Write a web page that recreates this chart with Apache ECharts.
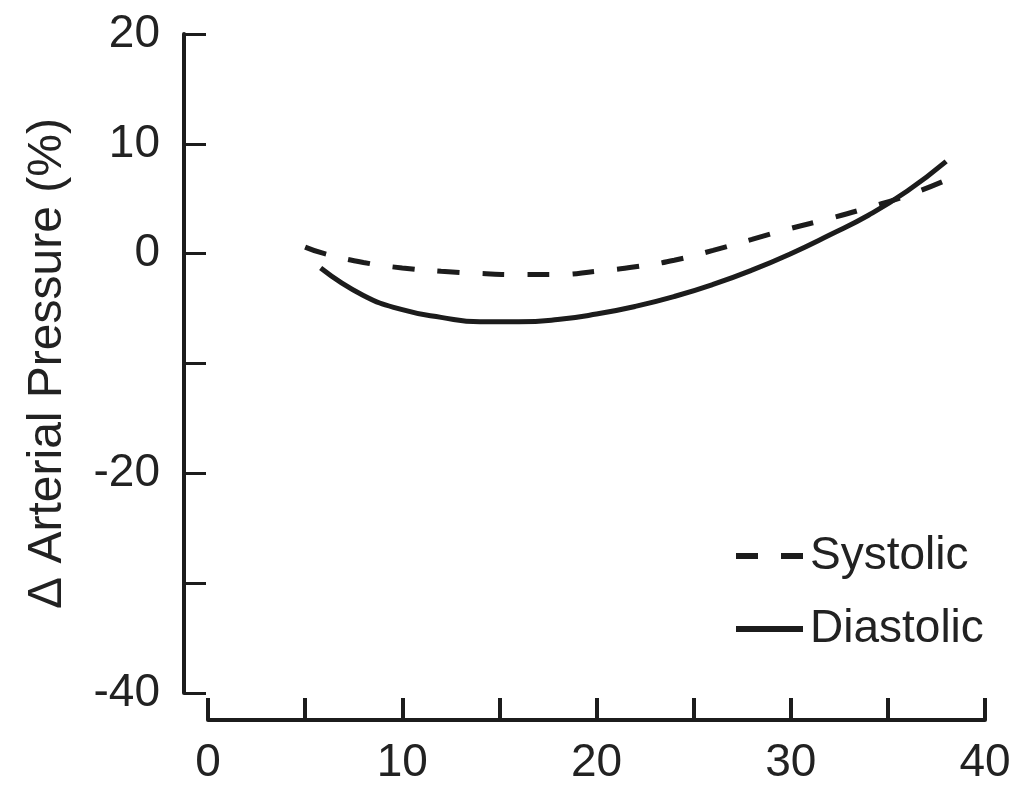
<!DOCTYPE html>
<html>
<head>
<meta charset="utf-8">
<script src="https://cdn.jsdelivr.net/npm/echarts@6/dist/echarts.min.js"></script>
<style>
  html, body { margin: 0; padding: 0; background: #fff; }
  #chart { width: 1026px; height: 800px; }
</style>
</head>
<body>
<div id="chart"></div>
<script>
// values
var xSystolic = [5, 6, 8, 10, 12, 14, 16, 18, 20, 22, 24, 26, 28, 30, 32, 34, 36, 38];
var ySystolic = [0.6, 0.0, -0.8, -1.3, -1.6, -1.8, -1.9, -1.9, -1.6, -1.2, -0.6, 0.3, 1.3, 2.3, 3.2, 4.2, 5.3, 6.7];

var xDiastolic = [5.8, 8, 10, 12, 14, 16, 18, 20, 22, 24, 26, 28, 30, 32, 34, 36, 38];
var yDiastolic = [-1.3, -3.8, -5.1, -5.8, -6.2, -6.2, -6.0, -5.5, -4.8, -3.9, -2.8, -1.5, 0.0, 1.7, 3.5, 5.7, 8.4];

// only these ticks get a label
var xTickLabels = [0, 10, 20, 30, 40];
var yTickLabels = [20, 10, 0, -20, -40];

var seriesNames = ['Systolic', 'Diastolic'];

function pairs(xs, ys) {
  var out = [];
  for (var i = 0; i < xs.length; i++) out.push([xs[i], ys[i]]);
  return out;
}

var ink = '#1c1c1c';
var font = 'Liberation Sans, Arial, sans-serif';

var chart = echarts.init(document.getElementById('chart'), null, { renderer: 'canvas' });

var option = {
  animation: false,
  grid: { left: 208, right: 41, top: 34, bottom: 107 },
  legend: {
    data: seriesNames,
    orient: 'vertical',
    left: 728,
    top: 528,
    itemWidth: 67,
    itemHeight: 14,
    itemGap: 27,
    itemStyle: { opacity: 0 },
    lineStyle: { width: 6 },
    textStyle: { fontFamily: font, fontSize: 46, color: '#222', padding: [0, 0, 0, 2] }
  },
  xAxis: {
    type: 'value',
    min: 0,
    max: 40,
    interval: 5,
    offset: 27,
    splitLine: { show: false },
    axisLine: { onZero: false, lineStyle: { color: ink, width: 4 } },
    axisTick: { inside: true, length: 22, lineStyle: { color: ink, width: 4 } },
    axisLabel: {
      margin: 20,
      fontFamily: font,
      fontSize: 46,
      color: '#222',
      formatter: function (v) { return xTickLabels.indexOf(v) >= 0 ? String(v) : ''; }
    }
  },
  yAxis: {
    type: 'value',
    min: -40,
    max: 20,
    interval: 10,
    offset: 24,
    name: 'Δ Arterial Pressure (%)',
    nameLocation: 'middle',
    nameGap: 112,
    nameTextStyle: { fontFamily: font, fontSize: 48, color: '#222' },
    splitLine: { show: false },
    axisLine: { show: true, onZero: false, lineStyle: { color: ink, width: 4 } },
    axisTick: { show: true, inside: true, length: 22, lineStyle: { color: ink, width: 3 } },
    axisLabel: {
      margin: 24,
      fontFamily: font,
      fontSize: 46,
      color: '#222',
      formatter: function (v) { return yTickLabels.indexOf(v) >= 0 ? String(v) : ''; }
    }
  },
  series: [
    {
      name: seriesNames[0],
      type: 'line',
      data: pairs(xSystolic, ySystolic),
      smooth: true,
      symbol: 'none',
      color: ink,
      lineStyle: { color: ink, width: 5, type: [22, 23] }
    },
    {
      name: seriesNames[1],
      type: 'line',
      data: pairs(xDiastolic, yDiastolic),
      smooth: true,
      symbol: 'none',
      color: ink,
      lineStyle: { color: ink, width: 5 }
    }
  ]
};

chart.setOption(option);
</script>
</body>
</html>
